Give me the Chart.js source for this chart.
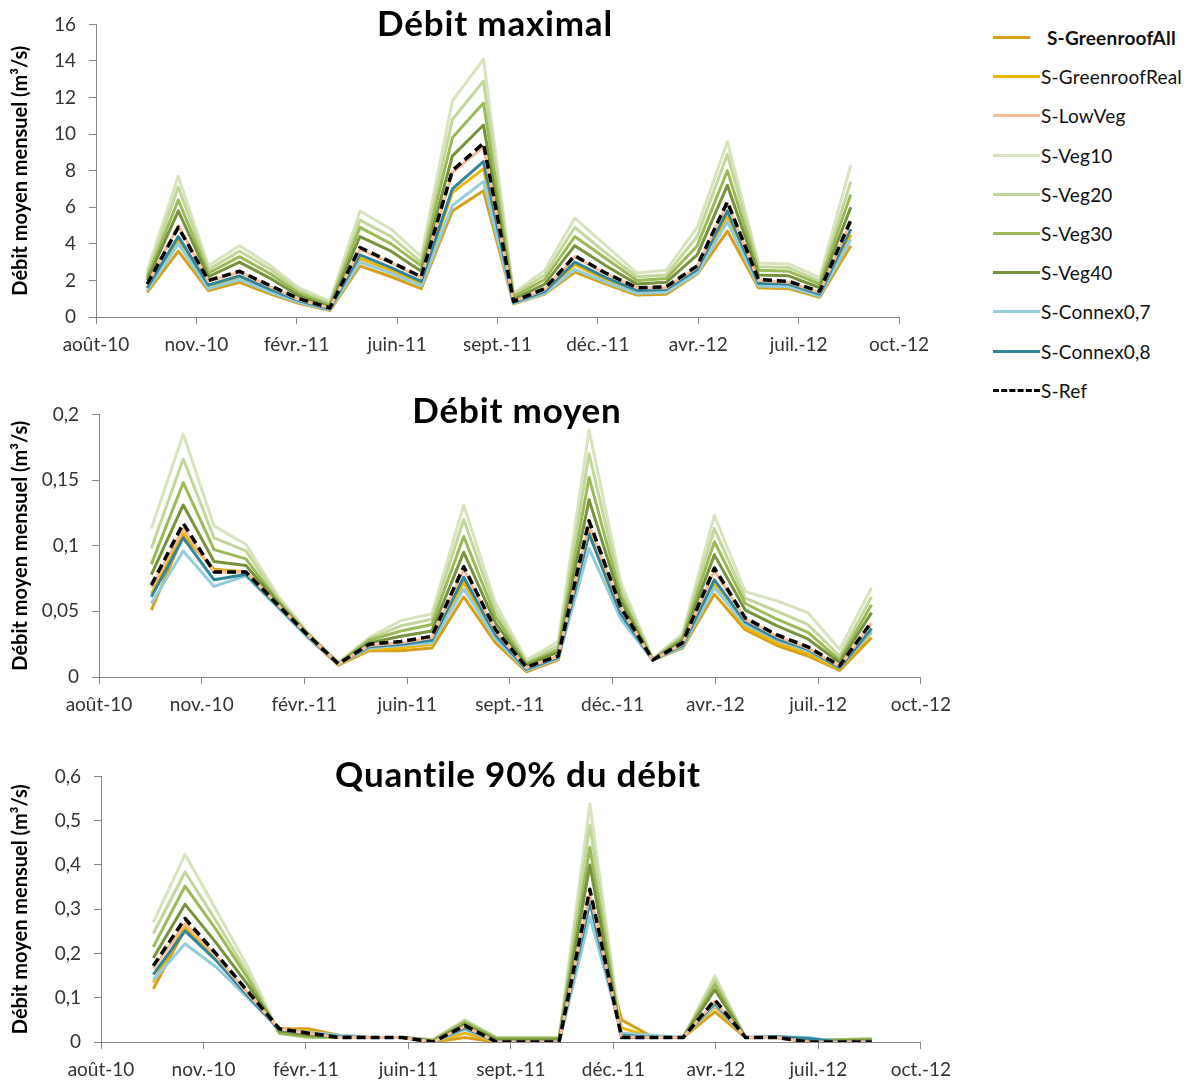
<!DOCTYPE html>
<html lang="fr">
<head>
<meta charset="utf-8">
<title>Débits mensuels</title>
<script src="https://cdn.jsdelivr.net/npm/chart.js@4"></script>
<style>
    body { margin: 0; background: #fff; width: 1191px; height: 1082px; position: relative; overflow: hidden; font-family: Lato, sans-serif; }
    canvas { position: absolute; left: 0; }
    .titre { position: absolute; transform: translateX(-50%); white-space: nowrap; font: bold 35px/1 Lato, sans-serif; letter-spacing: 0.8px; color: #000; }
    #legende { position: absolute; left: 993px; top: 18px; }
    .item { display: flex; align-items: center; height: 39.2px; font-size: 19px; letter-spacing: 0.2px; color: #111; }
    .trait { width: 47px; height: 0; border-top: 3px solid; margin-right: 1px; }
</style>
</head>
<body>

<canvas id="debitMax" style="top:0px" width="960" height="360"></canvas>
<canvas id="debitMoyen" style="top:390px" width="960" height="330"></canvas>
<canvas id="quantile90" style="top:752px" width="960" height="330"></canvas>

<div class="titre" style="left:495px; top:5px">Débit maximal</div>
<div class="titre" style="left:517px; top:392px">Débit moyen</div>
<div class="titre" style="left:518px; top:756px">Quantile 90% du débit</div>

<div id="legende"></div>

<script>
// ── Données ────────────────────────────────────────────────────────────────

// un point par mois, d'octobre 2010 à septembre 2012
const mois = [
    "2010-10", "2010-11", "2010-12", "2011-01", "2011-02", "2011-03",
    "2011-04", "2011-05", "2011-06", "2011-07", "2011-08", "2011-09",
    "2011-10", "2011-11", "2011-12", "2012-01", "2012-02", "2012-03",
    "2012-04", "2012-05", "2012-06", "2012-07", "2012-08", "2012-09",
];

// axe des dates façon Excel : origine au 11/08/2010, une graduation tous les 100 jours
const origineAxe = "2010-08-11";
const etiquettesX = ["août-10", "nov.-10", "févr.-11", "juin-11", "sept.-11", "déc.-11", "avr.-12", "juil.-12", "oct.-12"];

const scenarios = [
    "S-GreenroofAll", "S-GreenroofReal", "S-LowVeg", "S-Veg10", "S-Veg20",
    "S-Veg30", "S-Veg40", "S-Connex0,7", "S-Connex0,8", "S-Ref",
];
const couleurs = [
    "#D5A01B", "#F2B600", "#F6BE98", "#D7E4BD", "#C3D69B",
    "#9BBB59", "#77933C", "#93CDDD", "#31859C", "#000000",
];

// Débit maximal (m3/s) — une ligne par scénario, dans l'ordre de la légende
const debitMax = [
    [1.35, 3.6, 1.45, 1.9, 1.25, 0.75, 0.35, 2.8, 2.2, 1.55, 5.8, 6.9, 0.72, 1.25, 2.45, 1.8, 1.2, 1.25, 2.35, 4.7, 1.6, 1.55, 1.08, 3.9],
    [1.55, 4.2, 1.7, 2.15, 1.45, 0.85, 0.42, 3.2, 2.55, 1.85, 6.8, 8.1, 0.78, 1.35, 2.85, 2.05, 1.4, 1.45, 2.5, 5.5, 1.8, 1.75, 1.2, 4.5],
    [1.75, 5.0, 1.95, 2.45, 1.65, 0.95, 0.5, 3.7, 2.95, 2.15, 7.9, 9.3, 0.85, 1.5, 3.3, 2.35, 1.6, 1.6, 2.75, 6.2, 2.0, 1.9, 1.35, 5.2],
    [2.5, 7.7, 2.8, 3.9, 2.8, 1.6, 0.85, 5.8, 4.8, 3.3, 11.8, 14.1, 1.3, 2.55, 5.4, 3.9, 2.4, 2.55, 4.9, 9.6, 2.95, 2.9, 2.15, 8.3],
    [2.3, 7.1, 2.6, 3.6, 2.6, 1.45, 0.75, 5.3, 4.4, 3.0, 10.8, 12.9, 1.2, 2.3, 4.9, 3.5, 2.2, 2.3, 4.4, 8.9, 2.75, 2.7, 1.95, 7.4],
    [2.15, 6.4, 2.4, 3.3, 2.35, 1.3, 0.65, 4.9, 4.0, 2.8, 9.8, 11.7, 1.1, 2.05, 4.4, 3.2, 2.0, 2.1, 3.9, 8.0, 2.55, 2.5, 1.8, 6.7],
    [2.0, 5.8, 2.2, 3.0, 2.1, 1.15, 0.55, 4.4, 3.6, 2.5, 8.8, 10.5, 0.95, 1.8, 3.9, 2.8, 1.8, 1.9, 3.4, 7.2, 2.3, 2.25, 1.6, 6.0],
    [1.45, 4.0, 1.55, 2.05, 1.35, 0.8, 0.4, 3.0, 2.4, 1.7, 6.1, 7.4, 0.75, 1.3, 2.6, 1.9, 1.3, 1.35, 2.4, 5.2, 1.7, 1.65, 1.15, 4.25],
    [1.6, 4.4, 1.75, 2.25, 1.5, 0.9, 0.45, 3.4, 2.7, 1.95, 7.0, 8.5, 0.8, 1.4, 3.0, 2.15, 1.45, 1.5, 2.6, 5.8, 1.85, 1.8, 1.25, 4.8],
    [1.8, 4.9, 2.0, 2.5, 1.7, 1.0, 0.5, 3.8, 3.0, 2.2, 8.0, 9.5, 0.85, 1.55, 3.35, 2.4, 1.6, 1.65, 2.8, 6.3, 2.05, 1.95, 1.4, 5.3],
];

// Débit moyen (m3/s)
const debitMoyen = [
    [0.051, 0.108, 0.082, 0.080, 0.055, 0.031, 0.009, 0.020, 0.020, 0.022, 0.061, 0.026, 0.004, 0.013, 0.110, 0.045, 0.013, 0.022, 0.063, 0.036, 0.024, 0.016, 0.005, 0.030],
    [0.063, 0.110, 0.081, 0.080, 0.055, 0.032, 0.010, 0.021, 0.022, 0.025, 0.072, 0.030, 0.005, 0.014, 0.112, 0.050, 0.013, 0.023, 0.070, 0.038, 0.026, 0.018, 0.006, 0.034],
    [0.068, 0.113, 0.080, 0.080, 0.055, 0.033, 0.010, 0.024, 0.026, 0.030, 0.082, 0.035, 0.007, 0.016, 0.116, 0.052, 0.013, 0.025, 0.081, 0.044, 0.031, 0.022, 0.008, 0.041],
    [0.113, 0.185, 0.115, 0.101, 0.062, 0.035, 0.011, 0.030, 0.043, 0.048, 0.131, 0.056, 0.013, 0.027, 0.188, 0.072, 0.014, 0.033, 0.123, 0.065, 0.058, 0.049, 0.021, 0.068],
    [0.098, 0.166, 0.106, 0.096, 0.060, 0.034, 0.011, 0.029, 0.039, 0.044, 0.120, 0.051, 0.011, 0.024, 0.170, 0.067, 0.014, 0.031, 0.113, 0.060, 0.050, 0.040, 0.016, 0.061],
    [0.086, 0.148, 0.097, 0.090, 0.058, 0.034, 0.010, 0.028, 0.035, 0.040, 0.107, 0.046, 0.010, 0.021, 0.152, 0.062, 0.013, 0.030, 0.103, 0.056, 0.044, 0.034, 0.013, 0.055],
    [0.078, 0.131, 0.088, 0.085, 0.057, 0.033, 0.010, 0.026, 0.031, 0.035, 0.095, 0.041, 0.009, 0.019, 0.135, 0.058, 0.013, 0.028, 0.093, 0.051, 0.039, 0.029, 0.011, 0.049],
    [0.056, 0.096, 0.069, 0.077, 0.053, 0.031, 0.010, 0.022, 0.024, 0.026, 0.067, 0.029, 0.005, 0.014, 0.098, 0.044, 0.013, 0.023, 0.068, 0.040, 0.028, 0.020, 0.007, 0.035],
    [0.061, 0.106, 0.074, 0.078, 0.054, 0.032, 0.010, 0.023, 0.025, 0.028, 0.076, 0.032, 0.006, 0.015, 0.109, 0.048, 0.013, 0.024, 0.074, 0.042, 0.029, 0.021, 0.007, 0.037],
    [0.070, 0.117, 0.080, 0.080, 0.055, 0.033, 0.010, 0.025, 0.027, 0.031, 0.084, 0.036, 0.0075, 0.016, 0.119, 0.053, 0.013, 0.026, 0.083, 0.045, 0.032, 0.023, 0.0085, 0.042],
];

// Quantile 90 % du débit (m3/s)
const quantile90 = [
    [0.120, 0.255, 0.190, 0.110, 0.030, 0.030, 0.015, 0.010, 0.010, 0.000, 0.010, 0.000, 0.000, 0.000, 0.330, 0.050, 0.010, 0.010, 0.068, 0.010, 0.010, 0.000, 0.000, 0.000],
    [0.135, 0.262, 0.190, 0.110, 0.030, 0.025, 0.012, 0.010, 0.010, 0.000, 0.020, 0.000, 0.000, 0.000, 0.320, 0.032, 0.010, 0.010, 0.080, 0.010, 0.010, 0.000, 0.000, 0.000],
    [0.165, 0.268, 0.195, 0.110, 0.030, 0.020, 0.010, 0.010, 0.010, 0.000, 0.035, 0.000, 0.000, 0.000, 0.335, 0.012, 0.010, 0.010, 0.092, 0.010, 0.010, 0.000, 0.000, 0.000],
    [0.270, 0.424, 0.300, 0.170, 0.020, 0.010, 0.010, 0.010, 0.010, 0.005, 0.050, 0.010, 0.010, 0.010, 0.537, 0.010, 0.010, 0.010, 0.150, 0.010, 0.010, 0.005, 0.005, 0.008],
    [0.245, 0.384, 0.275, 0.155, 0.020, 0.010, 0.010, 0.010, 0.010, 0.005, 0.048, 0.010, 0.010, 0.010, 0.490, 0.010, 0.010, 0.010, 0.140, 0.010, 0.010, 0.005, 0.005, 0.008],
    [0.215, 0.352, 0.255, 0.145, 0.020, 0.012, 0.010, 0.010, 0.010, 0.004, 0.045, 0.008, 0.008, 0.008, 0.440, 0.010, 0.010, 0.010, 0.130, 0.010, 0.010, 0.005, 0.005, 0.006],
    [0.190, 0.311, 0.225, 0.130, 0.025, 0.015, 0.010, 0.010, 0.010, 0.002, 0.040, 0.005, 0.005, 0.005, 0.400, 0.010, 0.010, 0.010, 0.118, 0.010, 0.010, 0.003, 0.003, 0.004],
    [0.140, 0.222, 0.170, 0.100, 0.030, 0.022, 0.015, 0.010, 0.010, 0.000, 0.028, 0.000, 0.000, 0.000, 0.283, 0.020, 0.015, 0.010, 0.083, 0.010, 0.012, 0.010, 0.000, 0.000],
    [0.152, 0.251, 0.185, 0.105, 0.028, 0.020, 0.012, 0.010, 0.010, 0.000, 0.032, 0.000, 0.000, 0.000, 0.316, 0.015, 0.010, 0.010, 0.088, 0.010, 0.012, 0.008, 0.000, 0.000],
    [0.172, 0.279, 0.200, 0.115, 0.030, 0.020, 0.010, 0.010, 0.010, 0.000, 0.037, 0.000, 0.000, 0.000, 0.345, 0.010, 0.010, 0.010, 0.095, 0.010, 0.010, 0.000, 0.000, 0.000],
];

// ── Mise en forme commune ──────────────────────────────────────────────────

const joursDepuisOrigine = mois.map(
    (m) => (Date.parse(m + "-01") - Date.parse(origineAxe)) / 86400000
);

const gris = "#868686";
const policeTicks = { family: "Lato, sans-serif", size: 19 };

function formatFr(v) {
    return String(+v.toFixed(2)).replace(".", ",");
}

function panneau(id, valeurs, yMax, yPas, gaucheAxeY, padding, hauteurAxeX) {
    new Chart(document.getElementById(id), {
        type: "line",
        data: {
            datasets: scenarios.map((nom, i) => ({
                label: nom,
                data: valeurs[i].map((v, j) => ({ x: joursDepuisOrigine[j], y: v })),
                borderColor: couleurs[i],
                borderWidth: nom === "S-Ref" ? 3.5 : 3,
                borderDash: nom === "S-Ref" ? [9, 5] : [],
                borderJoinStyle: "round",
                pointRadius: 0,
                tension: 0,
                fill: false,
                // S-Ref au premier plan, S-LowVeg juste dessous
                order: nom === "S-Ref" ? 0 : nom === "S-LowVeg" ? 1 : 12 - i,
            })),
        },
        options: {
            responsive: false,
            animation: false,
            layout: { padding: padding },
            plugins: {
                legend: { display: false },
                tooltip: { enabled: false },
            },
            scales: {
                x: {
                    type: "linear",
                    min: 0,
                    max: 800,
                    afterBuildTicks: (s) => {
                        s.ticks = etiquettesX.map((_, k) => ({ value: k * 100 }));
                    },
                    afterFit: (s) => { s.height = hauteurAxeX; },
                    grid: { drawOnChartArea: false, color: gris, tickLength: 7 },
                    border: { color: gris },
                    ticks: {
                        autoSkip: false,
                        maxRotation: 0,
                        padding: 9,
                        color: "#333",
                        font: policeTicks,
                        callback: (v, k) => etiquettesX[k],
                    },
                },
                y: {
                    min: 0,
                    max: yMax,
                    afterFit: (s) => { s.width = gaucheAxeY - padding.left; },
                    grid: { drawOnChartArea: false, color: gris, tickLength: 7 },
                    border: { color: gris },
                    ticks: {
                        stepSize: yPas,
                        padding: 13,
                        color: "#333",
                        font: policeTicks,
                        callback: (v) => formatFr(v),
                    },
                    title: {
                        display: true,
                        text: "Débit moyen mensuel (m³/s)",
                        color: "#000",
                        padding: { top: 0, bottom: 2 },
                        font: { family: "Lato, sans-serif", size: 20, weight: "bold" },
                    },
                },
            },
        },
    });
}

panneau("debitMax", debitMax, 16, 2, 96, { top: 20, right: 61, left: 9, bottom: 0 }, 43);
panneau("debitMoyen", debitMoyen, 0.2, 0.05, 99, { top: 18, right: 37, left: 9, bottom: 0 }, 43);
panneau("quantile90", quantile90, 0.6, 0.1, 101, { top: 19, right: 36, left: 9, bottom: 0 }, 40);

// ── Légende ────────────────────────────────────────────────────────────────

const legende = document.getElementById("legende");
scenarios.forEach((nom, i) => {
    const item = document.createElement("div");
    item.className = "item";
    const trait = document.createElement("span");
    trait.className = "trait";
    trait.style.borderTopColor = couleurs[i];
    if (nom === "S-Ref") trait.style.borderTopStyle = "dashed";
    const texte = document.createElement("span");
    texte.textContent = nom;
    if (i === 0) {
        trait.style.width = "37px";
        trait.style.marginRight = "17px";
        texte.style.fontWeight = "bold";
    }
    item.appendChild(trait);
    item.appendChild(texte);
    legende.appendChild(item);
});
</script>
</body>
</html>
